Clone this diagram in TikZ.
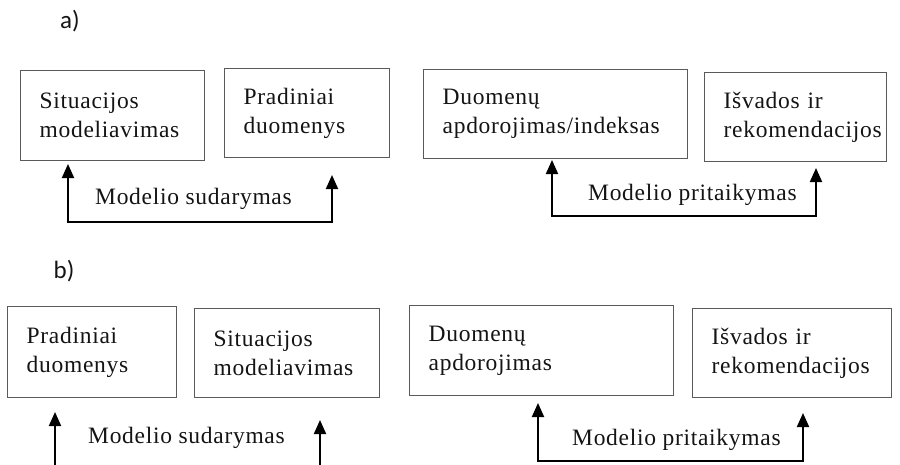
\documentclass[tikz,border=0pt]{standalone}
\usepackage{fontspec}
\setmainfont{Liberation Serif}[LetterSpace=3.0]
\newfontfamily\labelfont{Carlito}
\usetikzlibrary{arrows.meta}
\definecolor{boxline}{RGB}{90,90,90}
\definecolor{ink}{RGB}{20,20,20}
\begin{document}
\begin{tikzpicture}[x=1pt,y=-1pt,
  >={Triangle[width=12pt,length=14pt]},
  stagebox/.style={draw=boxline, line width=1.4pt, anchor=north west,
    inner xsep=19pt, inner ysep=0pt, align=left, text=ink,
    font=\fontsize{23.5}{29}\selectfont},
  flowlabel/.style={anchor=base west, inner sep=0pt, text=ink,
    font=\fontsize{23.5}{29}\selectfont},
  partlabel/.style={inner sep=0pt, text=ink, font=\labelfont\fontsize{25}{30}\selectfont},
  flow/.style={line width=2pt, black}]
\useasboundingbox (0,0) rectangle (900,464);

% ---------- a) ----------
\node[partlabel] (parta) at (70,21) {a)};

\node[stagebox, text width=146pt, minimum height=90pt] (a1) at (20,70)
  {Situacijos\\modeliavimas};
\node[stagebox, text width=127pt, minimum height=89pt] (a2) at (224,68)
  {Pradiniai\\duomenys};
\node[stagebox, text width=226pt, minimum height=89pt] (a3) at (423,69)
  {Duomenų\\apdorojimas/indeksas};
\node[stagebox, text width=144pt, minimum height=89pt] (a4) at (704,72)
  {Išvados ir\\rekomendacijos};

\coordinate (aLtip) at (68,164);
\coordinate (aLbot) at (68,222);
\coordinate (aRtip) at (332,175);
\draw[flow, <->] (aLtip) -- (aLbot) -| (aRtip);
\node[flowlabel] (asud) at (95,204) {Modelio sudarymas};

\coordinate (aPtipL) at (552,160);
\coordinate (aPbot) at (552,216);
\coordinate (aPtipR) at (816,168);
\draw[flow, <->] (aPtipL) -- (aPbot) -| (aPtipR);
\node[flowlabel] (apri) at (588,200) {Modelio pritaikymas};

% ---------- b) ----------
\node[partlabel] (partb) at (64,271) {b)};

\node[stagebox, text width=131pt, minimum height=91pt] (b1) at (7,306)
  {Pradiniai\\duomenys};
\node[stagebox, text width=147pt, minimum height=89pt] (b2) at (194,308)
  {Situacijos\\modeliavimas};
\node[stagebox, text width=226pt, minimum height=90pt] (b3) at (409,305)
  {Duomenų\\apdorojimas};
\node[stagebox, text width=161pt, minimum height=89pt] (b4) at (692,308)
  {Išvados ir\\rekomendacijos};

\coordinate (bLtip) at (55,412);
\coordinate (bLbot) at (55,466);
\coordinate (bRtip) at (320,420);
\coordinate (bRbot) at (320,466);
\draw[flow, ->] (bLbot) -- (bLtip);
\draw[flow, ->] (bRbot) -- (bRtip);
\node[flowlabel] (bsud) at (88,443) {Modelio sudarymas};

\coordinate (bPtipL) at (538,403);
\coordinate (bPbot) at (538,461);
\coordinate (bPtipR) at (803,413);
\draw[flow, <->] (bPtipL) -- (bPbot) -| (bPtipR);
\node[flowlabel] (bpri) at (572,445) {Modelio pritaikymas};
\end{tikzpicture}
\end{document}
